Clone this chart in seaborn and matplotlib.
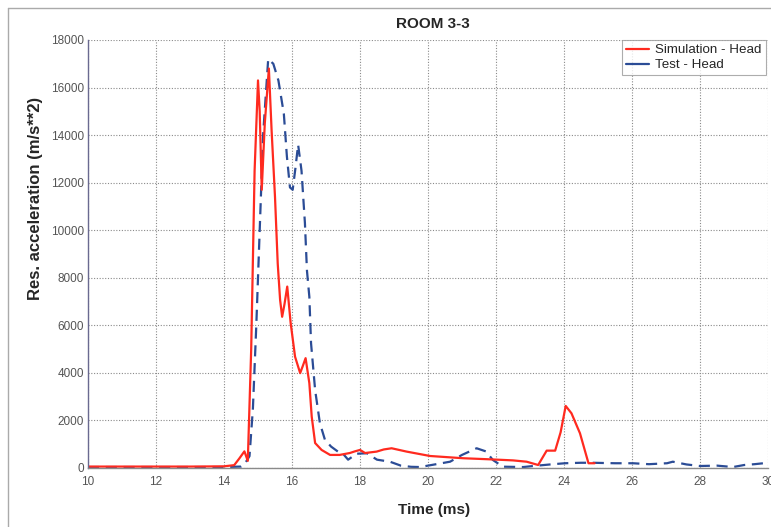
import pandas as pd
import matplotlib.pyplot as plt
import seaborn as sns
from matplotlib.lines import Line2D

# Simulation - Head (red, solid)
sim_time = [10.0, 11.0, 12.0, 13.0, 14.0, 14.3, 14.45, 14.6, 14.7, 14.8, 14.9, 15.0,
            15.05, 15.11, 15.2, 15.32, 15.4, 15.5, 15.58, 15.65, 15.71, 15.78, 15.86,
            15.96, 16.09, 16.24, 16.32, 16.4, 16.51, 16.58, 16.68, 16.87, 17.12, 17.4,
            17.7, 17.85, 18.0, 18.15, 18.49, 18.7, 18.93, 19.37, 20.06, 21.04, 21.82,
            22.5, 22.9, 23.24, 23.49, 23.74, 23.9, 24.05, 24.22, 24.47, 24.72, 24.9]
sim_acc = [60, 60, 60, 60, 70, 120, 400, 700, 300, 5000, 12500, 16300,
           15000, 11700, 14500, 16800, 14200, 11400, 8600, 7070, 6360, 6900, 7630,
           6100, 4680, 3990, 4300, 4620, 3570, 2160, 1050, 760, 550, 550,
           630, 700, 760, 630, 690, 780, 830, 690, 505, 410, 365,
           320, 265, 126, 730, 730, 1500, 2610, 2300, 1460, 200, 200]

# Test - Head (blue, dashed)
test_time = [10.0, 11.0, 12.0, 13.0, 14.0, 14.5, 14.6, 14.75, 14.85, 14.95, 15.05,
             15.15, 15.3, 15.45, 15.6, 15.76, 15.85, 15.94, 16.02, 16.1, 16.18, 16.28,
             16.38, 16.44, 16.51, 16.56, 16.68, 16.82, 16.97, 17.15, 17.35, 17.5,
             17.65, 17.9, 18.2, 18.5, 18.88, 19.2, 19.5, 19.76, 20.2, 20.65, 21.0,
             21.43, 21.7, 21.91, 22.2, 22.8, 23.1, 23.6, 24.03, 24.5, 24.85, 25.5,
             26.03, 26.5, 27.03, 27.2, 27.6, 28.0, 28.5, 28.97, 29.3, 29.6, 30.0]
test_acc = [40, 40, 40, 40, 40, 60, 150, 500, 2500, 6000, 10000,
            14000, 17200, 17000, 16300, 14900, 13100, 11800, 11700, 12600, 13600, 12500,
            10300, 8300, 7200, 5250, 3280, 1890, 1180, 900, 690, 600,
            350, 600, 620, 350, 265, 100, 50, 40, 150, 265, 550,
            830, 700, 336, 55, 40, 84, 150, 200, 220, 220, 200,
            200, 160, 200, 265, 150, 84, 100, 40, 126, 160, 220]

RED = "#ff2a1f"
BLUE = "#2b4c96"

sim_df = pd.DataFrame({"time": sim_time, "acc": sim_acc})
test_df = pd.DataFrame({"time": test_time, "acc": test_acc})

sns.set_style("white")
plt.rcParams["font.family"] = ["Liberation Sans", "DejaVu Sans"]

fig = plt.figure(figsize=(7.71, 5.27), dpi=100)
ax = fig.add_axes([88 / 771, 1 - 468 / 527, (768 - 88) / 771, (468 - 40) / 527])

sns.lineplot(data=test_df, x="time", y="acc", ax=ax, color=BLUE, linewidth=1.6,
             estimator=None, sort=False)
ax.lines[-1].set_dashes((5, 3))
sns.lineplot(data=sim_df, x="time", y="acc", ax=ax, color=RED, linewidth=1.6,
             estimator=None, sort=False)

ax.set_xlim(10, 30)
ax.set_ylim(0, 18000)
ax.set_xticks(range(10, 31, 2))
ax.set_yticks(range(0, 18001, 2000))
ax.grid(True, linestyle=(0, (1, 1.5)), color="#8a8a8a", linewidth=0.8)
ax.tick_params(axis="both", length=0, labelsize=8.5, labelcolor="#555555")
ax.tick_params(axis="x", pad=6)
ax.tick_params(axis="y", pad=3)
for s in ["top", "right"]:
    ax.spines[s].set_visible(False)
ax.spines["left"].set_color("#6a6a90")
ax.spines["bottom"].set_color("#8a8a8a")
ax.spines["left"].set_linewidth(1.0)
ax.spines["bottom"].set_linewidth(1.0)

ax.set_xlabel("Time (ms)", fontsize=11, fontweight="bold")
ax.xaxis.set_label_coords((434 - 88) / 680, -(503 - 468) / 428)
ax.set_ylabel("Res. acceleration (m/s**2)", fontsize=12, fontweight="bold")
ax.yaxis.set_label_coords((43 - 88) / 680, (468 - 198) / 428)
fig.text(433 / 771, 1 - 24 / 527, "ROOM 3-3", ha="center", va="center",
         fontsize=11, fontweight="bold")

handles = [Line2D([0], [0], color=RED, lw=1.6),
           Line2D([0], [0], color=BLUE, lw=1.6)]
leg = fig.legend(handles, ["Simulation - Head", "Test - Head"],
                 loc="upper left", bbox_to_anchor=(622 / 771, 1 - 40 / 527),
                 fontsize=9.6, frameon=True, fancybox=False, handlelength=1.7,
                 borderpad=0.3, labelspacing=0.2, handletextpad=0.5, borderaxespad=0)
leg.get_frame().set_edgecolor("#999999")
leg.get_frame().set_linewidth(0.8)

# scanned page frame
fig.add_artist(Line2D([8 / 771, 8 / 771], [0, 1 - 8 / 527], color="#aaaaaa", lw=1.0))
fig.add_artist(Line2D([8 / 771, 1], [1 - 8 / 527, 1 - 8 / 527], color="#aaaaaa", lw=1.0))

fig.savefig("out.png", dpi=100)
